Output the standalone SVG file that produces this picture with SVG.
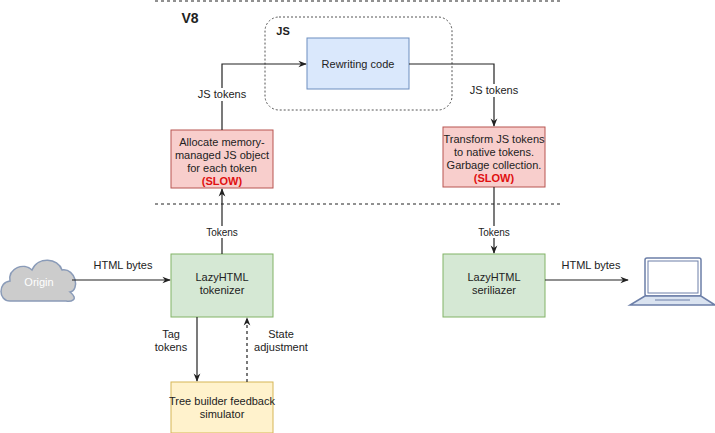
<svg xmlns="http://www.w3.org/2000/svg" width="715" height="433" viewBox="0 0 715 433">
<style>
text{font-family:"Liberation Sans",Arial,sans-serif;font-size:11px;fill:#222;text-anchor:middle}
.b{font-weight:bold}
.red{fill:#f8cecc;stroke:#b85450}
.green{fill:#d5e8d4;stroke:#82b366}
.blue{fill:#dae8fc;stroke:#6c8ebf}
.yel{fill:#fff2cc;stroke:#d6b656}
.ln{fill:none;stroke:#222;stroke-width:1.2}
.sep{stroke:#222;stroke-width:1;stroke-dasharray:3 3}
</style>
<defs><marker id="a" viewBox="0 0 10 10" refX="9" refY="5" markerWidth="7" markerHeight="7" orient="auto"><path d="M0,1 L10,5 L0,9 L3,5z" fill="#222"/></marker></defs>
<line class="sep" x1="155" y1="1" x2="560" y2="1"/>
<line class="sep" x1="155" y1="204" x2="560" y2="204"/>
<text x="190" y="23" class="b" style="font-size:14px">V8</text>
<g id="js"><rect x="265" y="17" width="187" height="93" rx="14" fill="none" stroke="#555" stroke-dasharray="2 2"/><text x="283" y="35" class="b">JS</text></g>
<g id="rewrite"><rect class="blue" x="307" y="38" width="102" height="51"/><text x="358" y="68">Rewriting code</text></g>
<g id="alloc"><rect class="red" x="171" y="130" width="102" height="58"/><text x="222" y="146">Allocate memory-</text><text x="222" y="159">managed JS object</text><text x="222" y="172">for each token</text><text x="222" y="185" class="b" style="fill:#e01010">(SLOW)</text></g>
<g id="transform"><rect class="red" x="443" y="127" width="102" height="60"/><text x="494" y="143">Transform JS tokens</text><text x="494" y="156">to native tokens.</text><text x="494" y="169">Garbage collection.</text><text x="494" y="182" class="b" style="fill:#e01010">(SLOW)</text></g>
<g id="tokenizer"><rect class="green" x="171" y="254" width="102" height="63"/><text x="222" y="281">LazyHTML</text><text x="222" y="294">tokenizer</text></g>
<g id="serializer"><rect class="green" x="443" y="254" width="102" height="63"/><text x="494" y="281">LazyHTML</text><text x="494" y="294">seriliazer</text></g>
<g id="tree"><rect class="yel" x="171" y="382" width="102" height="51"/><text x="222" y="405">Tree builder feedback</text><text x="222" y="418">simulator</text></g>
<g id="origin"><path d="M10,301 C-2,301 -2,282 10,281 C8,268 24,262 32,270 C38,256 58,258 62,270 C76,268 80,290 70,292 C80,300 70,302 66,301 Z" fill="#ccc" stroke="#8a9bb8" stroke-width="1.5"/><text x="39" y="286" style="fill:#fff">Origin</text></g>
<g id="laptop"><rect x="645" y="258" width="56" height="38" rx="2" fill="#fff" stroke="#6c7fa8" stroke-width="1.5"/><rect x="648" y="261" width="50" height="32" fill="#fff" stroke="#6c7fa8"/><path d="M645,296 L630,305 L715,305 L701,296 Z" fill="#dae3f0" stroke="#6c7fa8" stroke-width="1.5"/><line x1="655" y1="300" x2="690" y2="300" stroke="#6c7fa8"/></g>
<g id="connectors">
<line class="ln" x1="222" y1="254" x2="222" y2="189" marker-end="url(#a)"/>
<path class="ln" d="M222,130 V64 H306" marker-end="url(#a)"/>
<path class="ln" d="M409,64 H494 V126" marker-end="url(#a)"/>
<line class="ln" x1="494" y1="187" x2="494" y2="253" marker-end="url(#a)"/>
<line class="ln" x1="72" y1="280" x2="170" y2="280" marker-end="url(#a)"/>
<line class="ln" x1="545" y1="280" x2="628" y2="280" marker-end="url(#a)"/>
<line class="ln" x1="197" y1="317" x2="197" y2="381" marker-end="url(#a)"/>
<line class="ln" x1="247" y1="382" x2="247" y2="318" stroke-dasharray="3 3" marker-end="url(#a)"/>
<g style="font-size:10px">
<rect x="202" y="226" width="40" height="12" fill="#fff"/><text x="222" y="236" style="font-size:10px">Tokens</text>
<rect x="474" y="226" width="40" height="12" fill="#fff"/><text x="494" y="236" style="font-size:10px">Tokens</text>
<rect x="196" y="88" width="52" height="13" fill="#fff"/><text x="222" y="98">JS tokens</text>
<rect x="468" y="84" width="52" height="13" fill="#fff"/><text x="494" y="94">JS tokens</text>
<text x="123" y="269">HTML bytes</text>
<text x="591" y="269">HTML bytes</text>
<text x="171" y="338">Tag</text><text x="171" y="351">tokens</text>
<text x="281" y="338">State</text><text x="281" y="351">adjustment</text>
</g>
</g>
</svg>
